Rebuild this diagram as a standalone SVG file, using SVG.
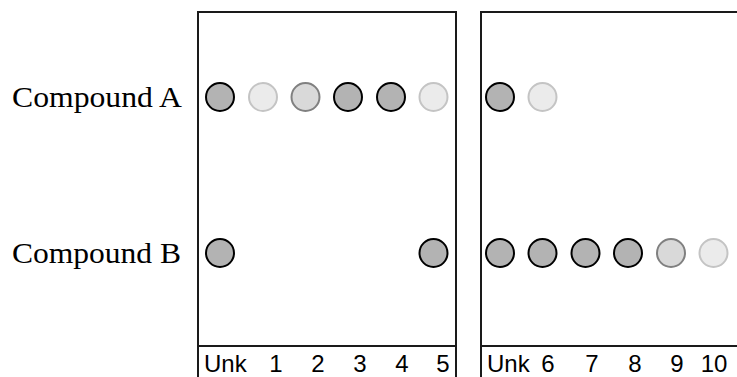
<svg xmlns="http://www.w3.org/2000/svg" width="737" height="377" viewBox="0 0 737 377">
<style>
.frame{fill:none;stroke:#1a1a1a;stroke-width:2}
.lbl{font-family:"Liberation Serif","Times New Roman",serif;font-size:29px;fill:#000}
.ax{font-family:"Liberation Sans",Arial,sans-serif;font-size:24px;fill:#000}
.dk{fill:#b3b3b3;stroke:#000;stroke-width:2}
.md{fill:#d9d9d9;stroke:#808080;stroke-width:2}
.lt{fill:#ebebeb;stroke:#c4c4c4;stroke-width:2}
</style>
<rect width="737" height="377" fill="#fff"/>
<g id="panel-left">
<polyline class="frame" points="198,377 198,12 456,12 456,377"/>
<line class="frame" x1="198" y1="346" x2="456" y2="346"/>
<text class="ax" x="204" y="372">Unk</text>
<text class="ax" x="276" y="372" text-anchor="middle">1</text>
<text class="ax" x="318" y="372" text-anchor="middle">2</text>
<text class="ax" x="360" y="372" text-anchor="middle">3</text>
<text class="ax" x="402" y="372" text-anchor="middle">4</text>
<text class="ax" x="443" y="372" text-anchor="middle">5</text>
</g>
<g id="panel-right">
<polyline class="frame" points="481,377 481,12 737,12"/>
<line class="frame" x1="481" y1="346" x2="737" y2="346"/>
<text class="ax" x="487" y="372">Unk</text>
<text class="ax" x="548" y="372" text-anchor="middle">6</text>
<text class="ax" x="592" y="372" text-anchor="middle">7</text>
<text class="ax" x="635" y="372" text-anchor="middle">8</text>
<text class="ax" x="677" y="372" text-anchor="middle">9</text>
<text class="ax" x="714" y="372" text-anchor="middle">10</text>
</g>
<g id="label-a"><text class="lbl" x="12" y="107" textLength="170" lengthAdjust="spacingAndGlyphs">Compound A</text></g>
<g id="label-b"><text class="lbl" x="12" y="263" textLength="169" lengthAdjust="spacingAndGlyphs">Compound B</text></g>
<g id="row-a">
<circle class="dk" cx="220" cy="97" r="14"/>
<circle class="lt" cx="263" cy="97" r="14"/>
<circle class="md" cx="305.5" cy="97" r="14"/>
<circle class="dk" cx="348" cy="97" r="14"/>
<circle class="dk" cx="391" cy="97" r="14"/>
<circle class="lt" cx="433.5" cy="97" r="14"/>
<circle class="dk" cx="500" cy="97" r="14"/>
<circle class="lt" cx="542.5" cy="97" r="14"/>
</g>
<g id="row-b">
<circle class="dk" cx="220" cy="253" r="14"/>
<circle class="dk" cx="433.5" cy="253" r="14"/>
<circle class="dk" cx="500" cy="253" r="14"/>
<circle class="dk" cx="542.5" cy="253" r="14"/>
<circle class="dk" cx="585.5" cy="253" r="14"/>
<circle class="dk" cx="628" cy="253" r="14"/>
<circle class="md" cx="671" cy="253" r="14"/>
<circle class="lt" cx="713.5" cy="253" r="14"/>
</g>
<g id="connectors"></g>
</svg>
